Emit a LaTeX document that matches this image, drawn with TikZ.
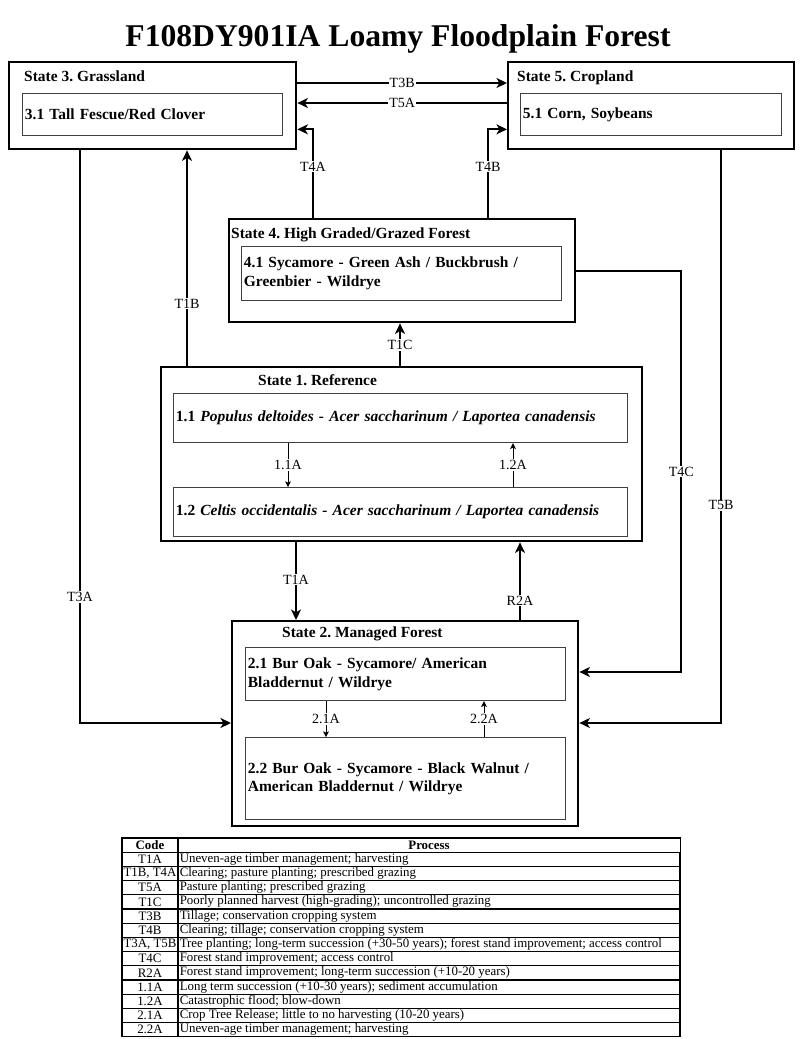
\documentclass[tikz,border=0pt]{standalone}
\usepackage{fontspec}
\setmainfont{Liberation Serif}
\frenchspacing
\usetikzlibrary{arrows.meta, positioning, calc}

\begin{document}
\begin{tikzpicture}[
    x=0.03cm, y=-0.03cm,
    statebox/.style={rectangle, draw, line width=2pt, anchor=north west, inner sep=0pt},
    phasebox/.style={rectangle, draw=black!75, line width=1pt, anchor=north west, inner xsep=2pt, align=left, font=\fontsize{13.2}{16}\selectfont\bfseries},
    statetitle/.style={anchor=base west, inner sep=0pt, font=\fontsize{13.2}{16}\selectfont\bfseries},
    line/.style={draw, line width=1.6pt, -{Stealth[length=9pt, width=8.5pt, inset=2.5pt]}},
    thinline/.style={draw, line width=0.7pt, -{Stealth[length=5pt, width=5pt, inset=1.2pt]}},
    lbl/.style={fill=white, inner sep=1pt, font=\fontsize{12}{13}\selectfont},
    cell/.style={rectangle, draw, line width=0.9pt, anchor=north west, outer sep=0pt, minimum height=0.426cm, inner sep=0pt, font=\fontsize{11}{12}\selectfont}
]
    \useasboundingbox (0,0) rectangle (800,1039);

    % Title
    \node [anchor=base, font=\fontsize{27}{30}\selectfont\bfseries] (title) at (398,47) {F108DY901IA Loamy Floodplain Forest};

    % State 3
    \node [statebox, minimum width=8.61cm, minimum height=2.61cm] (s3) at (8,61) {};
    \node [statetitle] (s3t) at ($(s3.north west)+(16,20)$) {State 3. Grassland};
    \node [phasebox, text width=7.66cm, minimum height=1.26cm] (p31) at (22,93) {3.1 Tall Fescue/Red Clover};

    % State 5
    \node [statebox, minimum width=8.58cm, minimum height=2.61cm] (s5) at (507,61) {};
    \node [statetitle] (s5t) at ($(s5.north west)+(10,20)$) {State 5. Cropland};
    \node [phasebox, text width=7.69cm, minimum height=1.26cm] (p51) at (520,93) {5.1 Corn, Soybeans};

    % State 4
    \node [statebox, minimum width=10.38cm, minimum height=3.09cm] (s4) at (228,218) {};
    \node [statetitle] (s4t) at ($(s4.north west)+(3,20)$) {State 4. High Graded/Grazed Forest};
    \node [phasebox, text width=9.46cm, minimum height=1.62cm] (p41) at (241,246) {4.1 Sycamore - Green Ash / Buckbrush /\\Greenbier - Wildrye};

    % State 1
    \node [statebox, minimum width=14.43cm, minimum height=5.22cm] (s1) at (160,366) {};
    \node [statetitle] (s1t) at ($(s1.north west)+(98,19)$) {State 1. Reference};
    \node [phasebox, text width=13.48cm, minimum height=1.47cm] (p11) at (173,393) {1.1 \textit{Populus deltoides - Acer saccharinum / Laportea canadensis}};
    \node [phasebox, text width=13.48cm, minimum height=1.47cm, below=1.32cm of p11] (p12) {1.2 \textit{Celtis occidentalis - Acer saccharinum / Laportea canadensis}};

    % State 2
    \node [statebox, minimum width=10.38cm, minimum height=6.15cm] (s2) at (231,620) {};
    \node [statetitle] (s2t) at ($(s2.north west)+(51,17)$) {State 2. Managed Forest};
    \node [phasebox, text width=9.46cm, minimum height=1.59cm] (p21) at (245,647) {2.1 Bur Oak - Sycamore/ American\\Bladdernut / Wildrye};
    \node [phasebox, text width=9.46cm, minimum height=2.46cm, below=1.08cm of p21] (p22) {2.2 Bur Oak - Sycamore - Black Walnut /\\American Bladdernut / Wildrye};

    % Connection points
    \coordinate (t4a) at ($(s4.north west)+(85,0)$);
    \coordinate (t4b) at ($(s4.north west)+(260,0)$);
    \coordinate (t1c) at ($(s1.north west)+(240,0)$);
    \coordinate (t1b) at ($(s1.north west)+(27,0)$);
    \coordinate (t3a) at ($(s3.south west)+(72,0)$);
    \coordinate (t5b) at ($(s5.south west)+(214,0)$);
    \coordinate (t4c) at ($(s4.north east)+(0,53)$);
    \coordinate (t1a) at ($(s1.south west)+(136,0)$);
    \coordinate (r2a) at ($(s2.north west)+(289,0)$);
    \coordinate (a11) at ($(p11.south west)+(115,0)$);
    \coordinate (a12) at ($(p12.north west)+(340,0)$);
    \coordinate (a21) at ($(p21.south west)+(81,0)$);
    \coordinate (a22) at ($(p22.north west)+(239,0)$);

    % Transitions between states
    \path [line] ($(s3.north east)+(0,22)$) -- node[lbl] {T3B} ($(s5.north west)+(0,22)$);
    \path [line] ($(s5.north west)+(0,42)$) -- node[lbl] {T5A} ($(s3.north east)+(0,42)$);
    \path [line] (t4a) |- node[lbl, pos=0.29] {T4A} ($(s3.south east)+(0,-21)$);
    \path [line] (t4b) |- node[lbl, pos=0.29] {T4B} ($(s5.south west)+(0,-21)$);
    \path [line] (t1c) -- node[lbl] {T1C} (t1c |- s4.south);
    \path [line] (t1b) -- node[lbl, pos=0.29] {T1B} (t1b |- s3.south);
    \path [line] (t3a) |- node[lbl, pos=0.39] {T3A} ($(s2.north west)+(0,103)$);
    \path [line] (t5b) |- node[lbl, pos=0.31] {T5B} ($(s2.north east)+(0,103)$);
    \path [line] (t4c) -- ++(105,0) |- node[lbl, pos=0.25] {T4C} ($(s2.north east)+(0,52)$);
    \path [line] (t1a) -- node[lbl, pos=0.48] {T1A} (t1a |- s2.north);
    \path [line] (r2a) -- node[lbl, pos=0.25] {R2A} (r2a |- s1.south);

    % Transitions within states
    \path [thinline] (a11) -- node[lbl] {1.1A} (a11 |- p12.north);
    \path [thinline] (a12) -- node[lbl] {1.2A} (a12 |- p11.south);
    \path [thinline] (a21) -- node[lbl] {2.1A} (a21 |- p22.north);
    \path [thinline] (a22) -- node[lbl] {2.2A} (a22 |- p21.south);

    % Legend table
    \node [cell, minimum width=1.68cm, font=\fontsize{11}{12}\selectfont\bfseries] (code0) at (122,838) {Code};
    \node [cell, minimum width=15.06cm, font=\fontsize{11}{12}\selectfont\bfseries] (proc0) at (code0.north east) {Process};
    \foreach \code/\proc [count=\i] in {
        T1A/{Uneven-age timber management; harvesting},
        {T1B, T4A}/{Clearing; pasture planting; prescribed grazing},
        T5A/{Pasture planting; prescribed grazing},
        T1C/{Poorly planned harvest (high-grading); uncontrolled grazing},
        T3B/{Tillage; conservation cropping system},
        T4B/{Clearing; tillage; conservation cropping system},
        {T3A, T5B}/{Tree planting; long-term succession (+30-50 years); forest stand improvement; access control},
        T4C/{Forest stand improvement; access control},
        R2A/{Forest stand improvement; long-term succession (+10-20 years)},
        1.1A/{Long term succession (+10-30 years); sediment accumulation},
        1.2A/{Catastrophic flood; blow-down},
        2.1A/{Crop Tree Release; little to no harvesting (10-20 years)},
        2.2A/{Uneven-age timber management; harvesting}} {
        \node [cell, minimum width=1.68cm] (code\i) at (122,{838+14.2*\i}) {\code};
        \node [cell, inner xsep=1.5pt] (proc\i) at (code\i.north east) {\makebox[14.954cm][l]{\proc}};
    }

\end{tikzpicture}
\end{document}
